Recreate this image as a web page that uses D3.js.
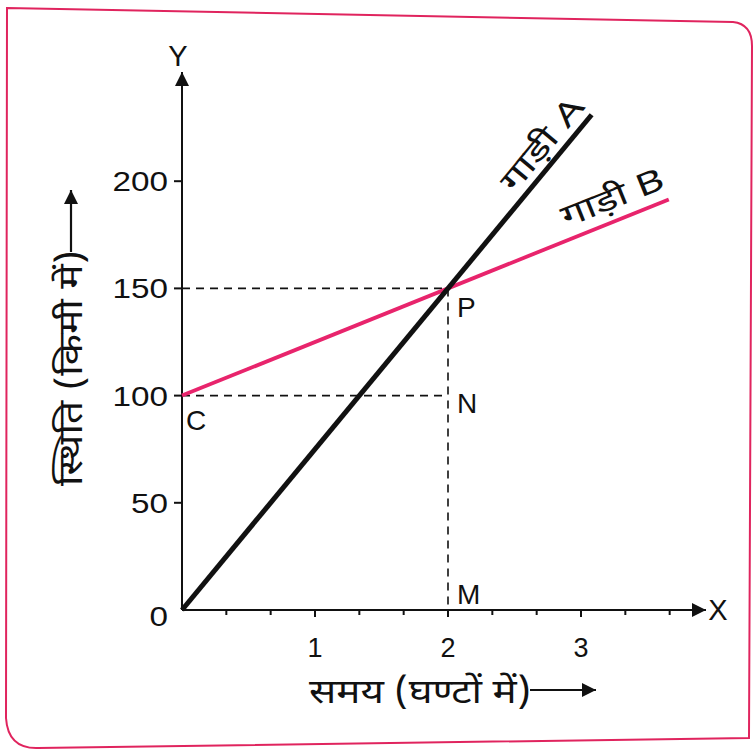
<!DOCTYPE html>
<html>
<head>
<meta charset="utf-8">
<script src="https://cdn.jsdelivr.net/npm/d3@7"></script>
<style>
  html, body { margin: 0; padding: 0; background: #fff; }
  svg { display: block; }
  .num { font-family: "Liberation Sans", Arial, sans-serif; fill: #111; }
  .hin { font-family: "Noto Sans Devanagari", "Lohit Devanagari", "Noto Sans", sans-serif; fill: #111; }
</style>
</head>
<body>
<svg id="chart" width="756" height="753"></svg>
<script>
// Time axis (hours) and position axis (km)
const xMajorTicks = [1, 2, 3];
const xMinorTicks = [1/3, 2/3, 4/3, 5/3, 7/3, 8/3, 10/3, 11/3];
const yTicks = [0, 50, 100, 150, 200];

// Position–time lines of the two cars
const carA = [{ t: 0, km: 0 }, { t: 3.08, km: 231 }];
const carB = [{ t: 0, km: 100 }, { t: 3.66, km: 191.5 }];

// Meeting point P and the construction points
const meetTime = 2;
const meetPos = 150;
const startPosB = 100;

const svg = d3.select("#chart");
const ink = "#111";
const pink = "#e8246c";

const x = d3.scaleLinear().domain([0, 1]).range([182, 315]);
const y = d3.scaleLinear().domain([0, 50]).range([610, 502.8]);

// Border
svg.append("path")
  .attr("d", "M7,8 L733,22 Q752,24 752,46 L749,738 L38,748 Q8,749 6,718 Z")
  .attr("fill", "none").attr("stroke", "#e0245e").attr("stroke-width", 2);

// Arrow marker
const defs = svg.append("defs");
defs.append("marker").attr("id", "arrow")
  .attr("viewBox", "0 0 10 10").attr("refX", 10).attr("refY", 5)
  .attr("markerWidth", 22).attr("markerHeight", 14).attr("markerUnits", "userSpaceOnUse")
  .attr("orient", "auto")
  .append("path").attr("d", "M0,0 L10,5 L0,10 Z").attr("fill", ink);

// Axes lines with arrow heads
svg.append("line").attr("x1", x(0)).attr("y1", y(0)).attr("x2", 706).attr("y2", y(0))
  .attr("stroke", ink).attr("stroke-width", 2).attr("marker-end", "url(#arrow)");
svg.append("line").attr("x1", x(0)).attr("y1", y(0)).attr("x2", x(0)).attr("y2", 72)
  .attr("stroke", ink).attr("stroke-width", 2).attr("marker-end", "url(#arrow)");

// X ticks
const xAxis = svg.append("g").attr("transform", `translate(0,${y(0)})`);
xAxis.selectAll("line.minor").data(xMinorTicks).join("line")
  .attr("x1", d => x(d)).attr("x2", d => x(d)).attr("y1", 0).attr("y2", 5)
  .attr("stroke", ink).attr("stroke-width", 2);
xAxis.selectAll("line.major").data(xMajorTicks).join("line")
  .attr("x1", d => x(d)).attr("x2", d => x(d)).attr("y1", 0).attr("y2", 7)
  .attr("stroke", ink).attr("stroke-width", 2);
xAxis.selectAll("text").data(xMajorTicks).join("text")
  .attr("class", "num").attr("x", d => x(d)).attr("y", 47)
  .attr("text-anchor", "middle").attr("font-size", 27).text(d => d);

// Y ticks
const yAxis = svg.append("g").attr("transform", `translate(${x(0)},0)`);
yAxis.selectAll("line").data(yTicks.filter(d => d > 0)).join("line")
  .attr("x1", -8).attr("x2", 0).attr("y1", d => y(d)).attr("y2", d => y(d))
  .attr("stroke", ink).attr("stroke-width", 2);
yAxis.selectAll("text").data(yTicks).join("text")
  .attr("class", "num")
  .attr("x", -14)
  .attr("y", d => d === 0 ? y(d) + 16 : y(d) + 10)
  .attr("text-anchor", "end").attr("font-size", 27)
  .attr("textLength", d => String(d).length * 18.5)
  .attr("lengthAdjust", "spacingAndGlyphs")
  .text(d => d);

// Axis letters
svg.append("text").attr("class", "num").attr("x", 178).attr("y", 66)
  .attr("text-anchor", "middle").attr("font-size", 29).text("Y");
svg.append("text").attr("class", "num").attr("x", 718).attr("y", 620)
  .attr("text-anchor", "middle").attr("font-size", 29).text("X");

// Dashed construction lines
const dash = svg.append("g").attr("stroke", ink).attr("stroke-width", 1.6)
  .attr("stroke-dasharray", "8,6").attr("fill", "none");
dash.append("line").attr("x1", x(0)).attr("x2", x(meetTime))
  .attr("y1", y(meetPos)).attr("y2", y(meetPos));
dash.append("line").attr("x1", x(0)).attr("x2", x(meetTime))
  .attr("y1", y(startPosB)).attr("y2", y(startPosB));
dash.append("line").attr("x1", x(meetTime)).attr("x2", x(meetTime))
  .attr("y1", y(meetPos)).attr("y2", y(0));

// Car lines
const line = d3.line().x(d => x(d.t)).y(d => y(d.km));
svg.append("path").datum(carB).attr("d", line)
  .attr("fill", "none").attr("stroke", pink).attr("stroke-width", 3.8);
svg.append("path").datum(carA).attr("d", line)
  .attr("fill", "none").attr("stroke", ink).attr("stroke-width", 5);

// Point labels
const pts = [
  { label: "P", t: meetTime, km: meetPos, dx: 9, dy: 29 },
  { label: "N", t: meetTime, km: startPosB, dx: 9, dy: 17 },
  { label: "M", t: meetTime, km: 0, dx: 9, dy: -6 },
  { label: "C", t: 0, km: startPosB, dx: 4, dy: 34 }
];
svg.selectAll("text.pt").data(pts).join("text")
  .attr("class", "num pt").attr("x", d => x(d.t) + d.dx).attr("y", d => y(d.km) + d.dy)
  .attr("font-size", 28).text(d => d.label);

// Line labels, rotated along each line
function lineLabel(series, t, text, offset, len) {
  const p0 = series[0], p1 = series[series.length - 1];
  const ang = Math.atan2(y(p1.km) - y(p0.km), x(p1.t) - x(p0.t)) * 180 / Math.PI;
  const km = p0.km + (p1.km - p0.km) * (t - p0.t) / (p1.t - p0.t);
  svg.append("text").attr("class", "hin")
    .attr("transform", `translate(${x(t)},${y(km)}) rotate(${ang}) translate(0,${offset})`)
    .attr("text-anchor", "middle").attr("font-size", 31)
    .attr("textLength", len).attr("lengthAdjust", "spacingAndGlyphs")
    .text(text);
}
lineLabel(carA, 2.82, "गाड़ी A", -9, 112);
lineLabel(carB, 3.3, "गाड़ी B", -12, 108);

// Axis titles with arrows
svg.append("text").attr("class", "hin")
  .attr("transform", "translate(82,486) rotate(-90)")
  .attr("font-size", 34)
  .attr("textLength", 236).attr("lengthAdjust", "spacingAndGlyphs")
  .text("स्थिति (किमी में)");
svg.append("line").attr("x1", 71).attr("y1", 252).attr("x2", 71).attr("y2", 190)
  .attr("stroke", ink).attr("stroke-width", 2.2).attr("marker-end", "url(#arrow)");

svg.append("text").attr("class", "hin").attr("x", 309).attr("y", 703)
  .attr("font-size", 34)
  .attr("textLength", 222).attr("lengthAdjust", "spacingAndGlyphs")
  .text("समय (घण्टों में)");
svg.append("line").attr("x1", 530).attr("y1", 690).attr("x2", 596).attr("y2", 690)
  .attr("stroke", ink).attr("stroke-width", 2.2).attr("marker-end", "url(#arrow)");
</script>
</body>
</html>
